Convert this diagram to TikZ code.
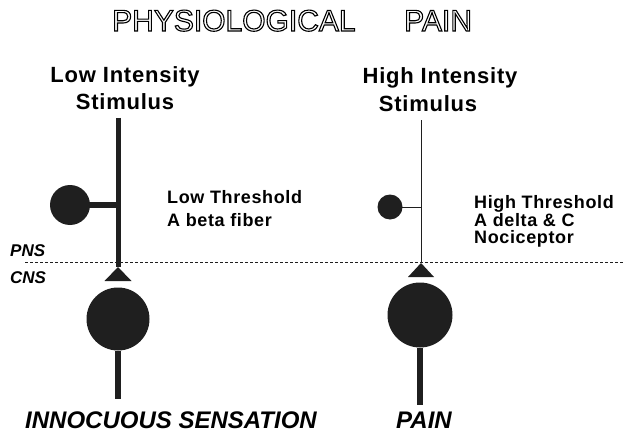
\documentclass[tikz,border=0pt]{standalone}
\usepackage{fontspec}
\setmainfont{Liberation Sans}
\newfontfamily\labelfont{Liberation Sans}[LetterSpace=3.5]
\usepackage{tikz}

% hollow letters for the heading
\newcommand{\hollow}[1]{\special{pdf:literal direct 1 Tr 1.1 w}#1\special{pdf:literal direct 0 Tr}}

\begin{document}
\begin{tikzpicture}[
			x=1pt,
			y=-1pt,
			line cap=butt,
			line join=miter,
			ink/.style={black!88},
			soma/.style={circle,fill=black!88,inner sep=0pt,outer sep=0pt},
			heading/.style={font=\fontsize{30}{33}\selectfont,inner sep=0pt,anchor=base west},
			stimlabel/.style={font=\labelfont\bfseries\fontsize{22}{26}\selectfont,inner sep=0pt,anchor=base},
			fiberlabel/.style={font=\labelfont\bfseries\fontsize{18}{22}\selectfont,inner sep=0pt,anchor=base west},
			zonelabel/.style={font=\bfseries\itshape\fontsize{17}{21}\selectfont,inner sep=0pt,anchor=base west},
			outlabel/.style={font=\bfseries\itshape\fontsize{24}{28}\selectfont,inner sep=0pt,anchor=base west}
			]
			
			\useasboundingbox (0,0) rectangle (623,433);
			
			% heading
			\node[heading] (physio) at (112,31) {\hollow{PHYSIOLOGICAL}};
			\node[heading] (painhead) at (404,31) {\hollow{PAIN}};
			
			% stimulus labels
			\node[stimlabel] (lowint) at (125,83) {Low Intensity};
			\node[stimlabel] (lowstim) at (125,110) {Stimulus};
			\node[stimlabel] (highint) at (440,84) {High Intensity};
			\node[stimlabel] (highstim) at (428,111) {Stimulus};
			
			% PNS / CNS border
			\coordinate (borderL) at (25,262);
			\coordinate (borderR) at (623,262);
			\draw[ink,line width=0.9pt,dash pattern=on 3pt off 2pt] (borderL) -- (borderR);
			\node[zonelabel] (pns) at (10,256) {PNS};
			\node[zonelabel] (cns) at (10,283) {CNS};
			
			% low threshold fiber
			\coordinate (ltop) at (118,118);
			\coordinate (ltip) at (118,267);
			\coordinate (lend) at (118,399);
			\node[soma,minimum size=40pt] (lperi) at (70,205) {};
			\node[soma,minimum size=63pt] (lsoma) at (118,319) {};
			\draw[ink,line width=5pt] (ltop) -- (ltip);
			\draw[ink,line width=6pt] (lperi.center) -- (lperi.center -| ltop);
			\fill[ink] (ltip) -- ++(-13.5,14) -- ++(27,0) -- cycle;
			\draw[ink,line width=6pt] (lsoma.south) -- (lend);
			\node[fiberlabel] (lowthr) at (167,203) {Low Threshold};
			\node[fiberlabel] (abeta) at (167,226) {A beta fiber};
			
			% high threshold fiber
			\coordinate (rtop) at (421,120);
			\coordinate (rtip) at (421,263);
			\coordinate (rend) at (420,405);
			\node[soma,minimum size=25pt] (rperi) at (390,207) {};
			\node[soma,minimum size=65pt] (rsoma) at (420,315) {};
			\draw[ink,line width=1pt] (rtop) -- (rtip);
			\draw[ink,line width=1pt] (rperi.center) -- (rperi.center -| rtop);
			\fill[ink] (rtip) -- ++(-13,14) -- ++(26,0) -- cycle;
			\draw[ink,line width=6pt] (rsoma.south) -- (rend);
			\node[fiberlabel] (highthr) at (474,208) {High Threshold};
			\node[fiberlabel] (adelta) at (474,226) {A delta \& C};
			\node[fiberlabel] (nocic) at (474,243) {Nociceptor};
			
			% outcomes
			\node[outlabel] (innoc) at (25,428) {INNOCUOUS SENSATION};
			\node[outlabel] (painout) at (396,428) {PAIN};
			
		\end{tikzpicture}
\end{document}
